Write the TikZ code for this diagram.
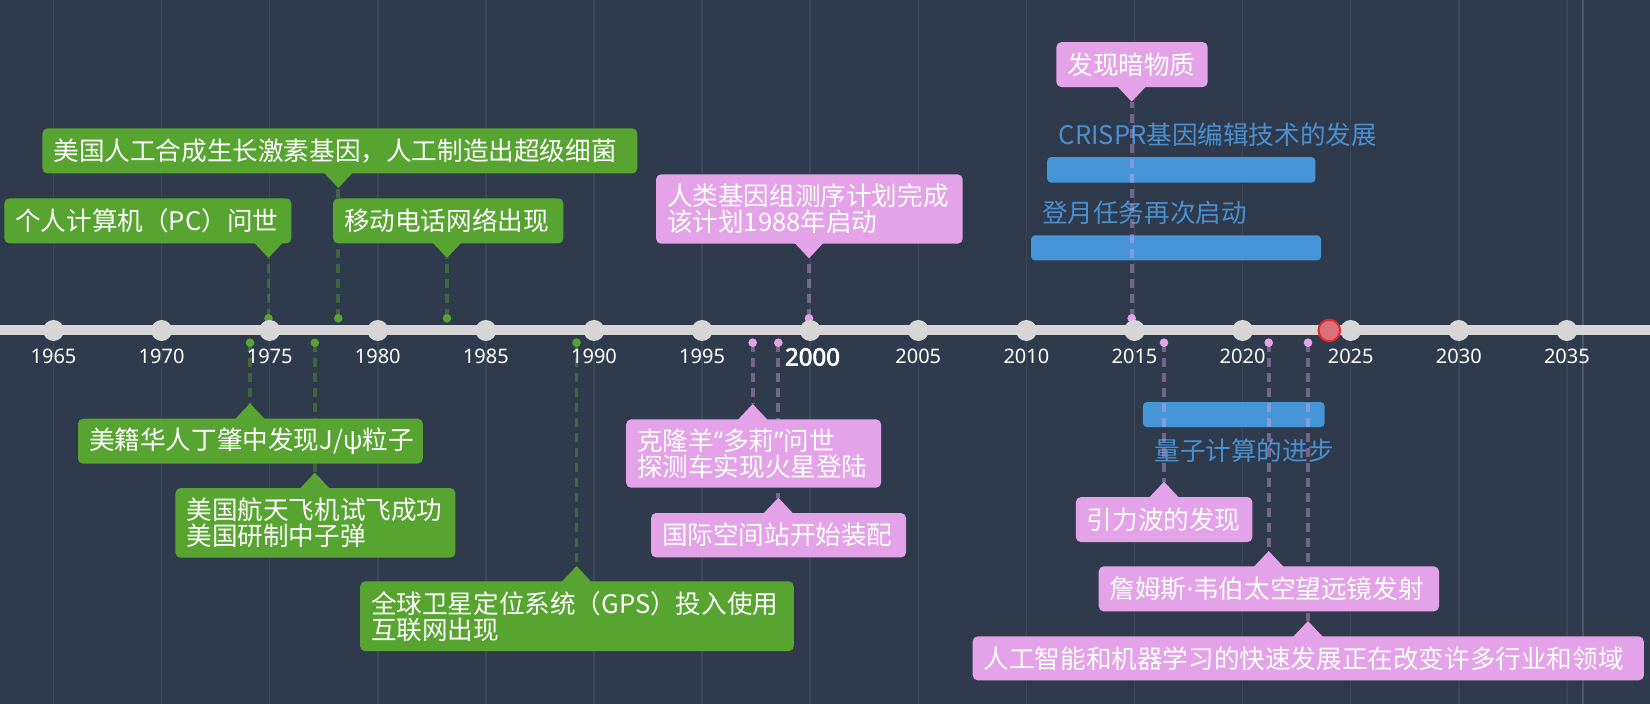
\documentclass[tikz,border=0pt]{standalone}
\usepackage{fontspec}
\newfontfamily\cjk{Noto Sans CJK SC}
\newfontfamily\yearfont{Noto Sans}
\newfontfamily\yearbold{Noto Sans}[FakeBold=3]
\definecolor{bg}{HTML}{2F3B4C}
\definecolor{gridc}{HTML}{3A4759}
\definecolor{gridl}{HTML}{4A5666}
\definecolor{tl}{HTML}{D6D6D6}
\definecolor{gr}{HTML}{58A431}
\definecolor{pk}{HTML}{E4A3E8}
\definecolor{bl}{HTML}{4795D9}
\definecolor{bltxt}{HTML}{4A8FD0}
\definecolor{redf}{HTML}{D9707A}
\definecolor{redd}{HTML}{E8262A}
\pgfdeclarelayer{bars}
\pgfdeclarelayer{conn}
\pgfsetlayers{bars,conn,main}
\newcommand\evbox[9]{%
  \pgfmathsetmacro\bw{(#5-#3)*0.5}%
  \pgfmathsetmacro\bh{(#6-#4)*0.5}%
  \pgfmathsetmacro\tw{\bw-11}%
  \if a#8%
    \pgfmathsetmacro\basey{#6-1}\pgfmathsetmacro\tipy{#6+15}\def\doty{318.3}%
  \else
    \pgfmathsetmacro\basey{#4+1}\pgfmathsetmacro\tipy{#4-15}\def\doty{342.7}%
  \fi
  \node[evbox, fill=#2, minimum width=\bw pt, minimum height=\bh pt, text width=\tw pt, anchor=north west] (#1) at (#3,#4) {#9};
  \fill[#2] (#7-15,\basey) -- (#7,\tipy) -- (#7+15,\basey) -- cycle;
  \coordinate (#1-tip) at (#7,\tipy);
  \node[evdot, fill=#2] (#1-dot) at (#7,\doty) {};
  \begin{pgfonlayer}{conn}
    \draw[conn, draw=#2] (#1-dot.center) -- (#1-tip);
  \end{pgfonlayer}
}
\newcommand\myopenq{{\yearfont “}}
\newcommand\mycloseq{{\yearfont ”}}
\newcommand\mymiddot{{\yearfont ·}}
\begin{document}
\begin{tikzpicture}[x=0.5pt,y=-0.5pt,
  evbox/.style={rounded corners=2.5pt, inner xsep=5.5pt, inner ysep=0pt, text=white, align=left,
    font=\cjk\fontsize{12.8pt}{13pt}\selectfont},
  evdot/.style={circle, inner sep=0pt, minimum size=4.3pt},
  conn/.style={line width=1.9pt, dash pattern=on 4.5pt off 3pt, opacity=0.4},
  yeardot/.style={circle, fill=tl, inner sep=0pt, minimum size=10.5pt},
  yearlab/.style={font=\yearfont\fontsize{10pt}{12pt}\selectfont, text=white, inner sep=0pt},
  bar/.style={fill=bl, rounded corners=2pt, inner sep=0pt, anchor=north west},
  barlab/.style={text=bltxt, font=\cjk\fontsize{12.8pt}{13pt}\selectfont, inner sep=0pt, anchor=west},
  gridline/.style={draw=gridc, line width=0.75pt},
  timeline/.style={draw=tl, line width=5pt}
]
\useasboundingbox (0,0) rectangle (1650,704);
\begin{pgfonlayer}{bars}
  \fill[bg] (0,0) rectangle (1650,704);
  \foreach \k in {0,...,14} {
    \draw[gridline] (53.5+\k*108.1,0) -- (53.5+\k*108.1,704);
  }
  \draw[gridline, draw=gridl] (1583,0) -- (1583,704);
  % range bars
  \node[bar, minimum width=134.15pt, minimum height=12.8pt] (crisprbar) at (1046.7,156.7) {};
  \node[barlab] (crisprlab) at (1058.3,135) {CRISPR基因编辑技术的发展};
  \node[bar, minimum width=145pt, minimum height=12.5pt] (moonbar) at (1030.7,235) {};
  \node[barlab] (moonlab) at (1041.7,213.3) {登月任务再次启动};
  \node[bar, minimum width=90.85pt, minimum height=12.5pt] (qbar) at (1142.5,401.7) {};
  \node[barlab] (qlab) at (1154,450.7) {量子计算的进步};
\end{pgfonlayer}
% timeline
\draw[timeline] (0,330.5) -- (1650,330.5);
% events
\evbox{pc}{gr}{4}{198}{291}{243}{268.5}{a}{个人计算机（PC）问世}
\evbox{hgh}{gr}{42}{128}{637}{173}{338.3}{a}{美国人工合成生长激素基因，人工制造出超级细菌}
\evbox{mob}{gr}{332.7}{198}{563}{243}{447}{a}{移动电话网络出现}
\evbox{jpsi}{gr}{77.6}{418.3}{422.4}{463.3}{250}{b}{美籍华人丁肇中发现J/ψ粒子}
\evbox{shut}{gr}{175}{487.7}{455}{557.3}{314.8}{b}{美国航天飞机试飞成功\\美国研制中子弹}
\evbox{gps}{gr}{359.7}{581}{793.4}{650.7}{576.5}{b}{全球卫星定位系统（GPS）投入使用\\互联网出现}
\evbox{gen}{pk}{655.7}{174}{962.3}{243.3}{809}{a}{人类基因组测序计划完成\\该计划1988年启动}
\evbox{dm}{pk}{1056}{41.7}{1207.3}{86.7}{1131.7}{a}{发现暗物质}
\evbox{dolly}{pk}{625.7}{419}{880.7}{487.3}{752.7}{b}{克隆羊\myopenq 多莉\mycloseq 问世\\探测车实现火星登陆}
\evbox{iss}{pk}{650.7}{512.7}{905.7}{557}{778.3}{b}{国际空间站开始装配}
\evbox{gw}{pk}{1075.5}{496.7}{1252}{541.7}{1164}{b}{引力波的发现}
\evbox{jwst}{pk}{1098.3}{566}{1438.6}{611}{1268.7}{b}{詹姆斯\mymiddot 韦伯太空望远镜发射}
\evbox{ai}{pk}{972.3}{636}{1643.4}{680}{1308}{b}{人工智能和机器学习的快速发展正在改变许多行业和领域}
% year dots and labels
\foreach \k/\yr in {0/1965,1/1970,2/1975,3/1980,4/1985,5/1990,6/1995,8/2005,9/2010,10/2015,11/2020,12/2025,13/2030,14/2035} {
  \node[yeardot] (y\yr) at (53.5+\k*108.1,330.5) {};
  \node[yearlab] (l\yr) at (53.5+\k*108.1,356) {\yr};
}
\node[yeardot] (y2000) at (810.2,330.5) {};
\node[yearlab, font=\yearbold\fontsize{12pt}{14pt}\selectfont] (l2000) at (812.5,357) {2000};
% current marker
\node[circle, fill=redf, draw=redd, line width=1pt, minimum size=10.8pt, inner sep=0pt,
  path picture={\fill[black,opacity=0.15] (1300,325.5) rectangle (1360,335.5);}] (now) at (1329.3,330.5) {};
\end{tikzpicture}
\end{document}
